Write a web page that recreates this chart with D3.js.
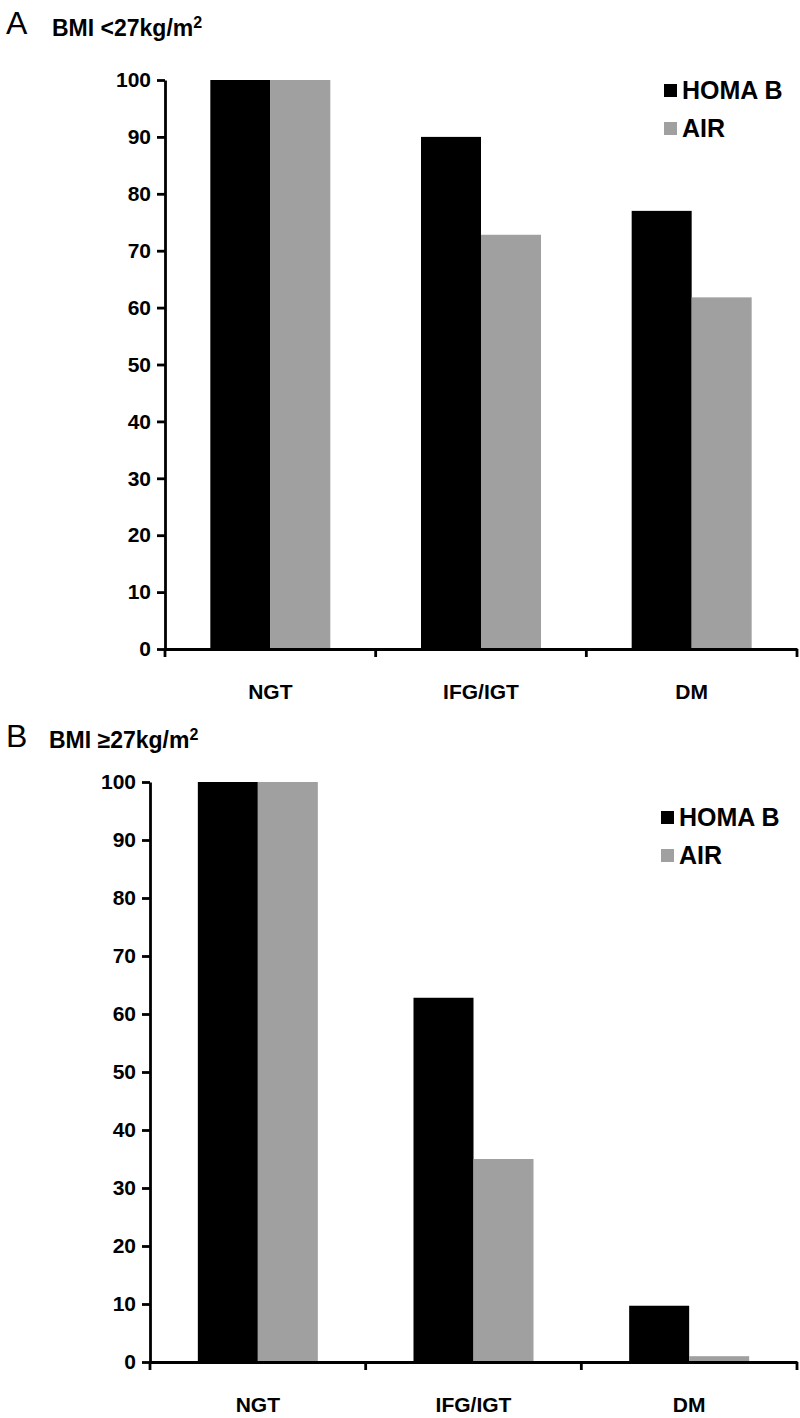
<!DOCTYPE html>
<html><head><meta charset="utf-8">
<script src="https://cdn.jsdelivr.net/npm/d3@7"></script>
<style>body{margin:0;background:#fff;}svg{display:block;font-family:"Liberation Sans",Arial,sans-serif;}</style>
</head><body>
<svg id="c" width="800" height="1418"></svg>
<script>
const categories = ["NGT", "IFG/IGT", "DM"];
const seriesNames = ["HOMA B", "AIR"];
const colors = ["#000000", "#a0a0a0"];
const homaA = [100, 90, 77];
const airA = [100, 72.8, 61.8];
const homaB = [100, 62.8, 9.7];
const airB = [100, 35, 1];
const yTicks = [0, 10, 20, 30, 40, 50, 60, 70, 80, 90, 100];

const svg = d3.select("#c");
const FF = "Liberation Sans, Arial, sans-serif";

function panel(cfg) {
  const g = svg.append("g");
  const x = d3.scaleBand().domain(categories).range([cfg.x0, cfg.x1]).paddingInner(0).paddingOuter(0);
  const y = d3.scaleLinear().domain([0, 100]).range([cfg.y0, cfg.y1]);
  const data = categories.map((c, i) => ({c, vals: [cfg.homa[i], cfg.air[i]]}));
  const barW = 60;
  data.forEach(d => {
    const start = x(d.c) + x.bandwidth() / 2 - barW;
    d.vals.forEach((v, j) => {
      g.append("rect")
        .attr("x", start + j * barW)
        .attr("y", y(v))
        .attr("width", barW)
        .attr("height", y(0) - y(v))
        .attr("fill", colors[j]);
    });
  });
  // y axis
  const ya = g.append("g").attr("transform", `translate(${cfg.x0},0)`)
    .call(d3.axisLeft(y).tickValues(yTicks).tickSize(8).tickPadding(6).tickSizeOuter(0));
  ya.select(".domain").attr("stroke", "#000").attr("stroke-width", 2.8);
  ya.selectAll(".tick line").attr("stroke", "#000").attr("stroke-width", 2.8);
  ya.selectAll(".tick text").attr("font-size", 21).attr("font-weight", "bold").attr("fill", "#000")
    .attr("font-family", FF);
  // x axis
  const xa = g.append("g").attr("transform", `translate(0,${cfg.y0})`)
    .call(d3.axisBottom(x).tickSize(0).tickPadding(35).tickSizeOuter(0));
  xa.select(".domain").attr("stroke", "#000").attr("stroke-width", 2.8);
  xa.selectAll(".tick text").attr("font-size", 21).attr("font-weight", "bold").attr("fill", "#000")
    .attr("font-family", FF);
  // category boundary ticks
  const bounds = categories.map(c => x(c)).concat([x.range()[1]]);
  g.selectAll(".bt").data(bounds).enter().append("line")
    .attr("x1", d => d).attr("x2", d => d)
    .attr("y1", cfg.y0).attr("y2", cfg.y0 + 8)
    .attr("stroke", "#000").attr("stroke-width", 2.8);
  // panel letter & title
  svg.append("text").attr("x", cfg.lx).attr("y", cfg.ly).attr("font-size", 32)
    .attr("font-family", FF).text(cfg.letter);
  const t = svg.append("text").attr("x", cfg.tx).attr("y", cfg.ty).attr("font-size", 23)
    .attr("font-weight", "bold").attr("font-family", FF);
  t.append("tspan").text(cfg.title);
  t.append("tspan").attr("font-size", 16).attr("dy", -8).text("2");
  // legend
  seriesNames.forEach((s, j) => {
    svg.append("rect").attr("x", cfg.legX).attr("y", cfg.legY + j * 38 - 14)
      .attr("width", 13).attr("height", 13).attr("fill", colors[j]);
    svg.append("text").attr("x", cfg.legX + 18).attr("y", cfg.legY + j * 38 + 1)
      .attr("font-size", 25).attr("font-weight", "bold")
      .attr("font-family", FF).text(s);
  });
}

panel({x0: 165, x1: 797, y0: 649, y1: 80, homa: homaA, air: airA,
  letter: "A", lx: 6, ly: 34, title: "BMI <27kg/m", tx: 52, ty: 36, legX: 664, legY: 98});
panel({x0: 150, x1: 797, y0: 1362, y1: 782, homa: homaB, air: airB,
  letter: "B", lx: 6, ly: 747, title: "BMI \u226527kg/m", tx: 49, ty: 748, legX: 661, legY: 825});
</script>
</body></html>
